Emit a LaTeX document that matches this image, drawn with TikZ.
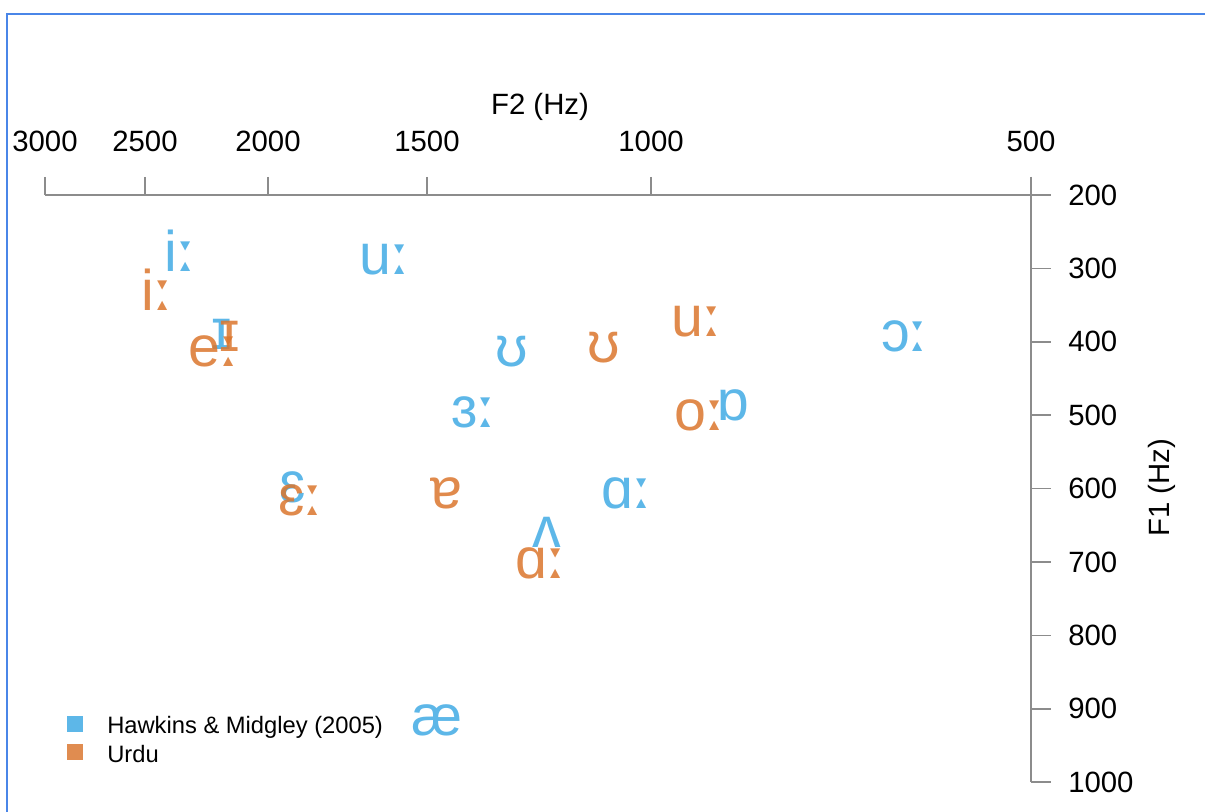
\documentclass[tikz,border=0pt]{standalone}
\usepackage{fontspec}
\setmainfont{Liberation Sans}
\newfontfamily\lenfont{DejaVu Sans}
\newcommand{\lng}{{\lenfont ː}}
\definecolor{hmblue}{RGB}{65,170,228}
\definecolor{urorange}{RGB}{219,118,45}
\definecolor{hmsq}{RGB}{93,183,232}
\definecolor{ursq}{RGB}{224,140,80}
\definecolor{frameblue}{RGB}{74,134,232}
\definecolor{axisgray}{RGB}{140,140,140}
\begin{document}
\begin{tikzpicture}[x=0.75pt,y=-0.75pt,
  axisline/.style={draw=axisgray,line width=1.1pt},
  ticklab/.style={inner sep=0pt,font=\fontsize{22}{26}\selectfont},
  vow/.style={inner sep=0pt,anchor=base,font=\fontsize{43}{50}\selectfont,text opacity=0.85},
  hm/.style={vow,text=hmblue},
  ur/.style={vow,text=urorange},
  legsq/.style={minimum size=12pt,inner sep=0pt,draw=none},
  legtxt/.style={inner sep=0pt,anchor=base west,font=\fontsize{17.8}{21}\selectfont}]
\useasboundingbox (0,0) rectangle (1205,812);
% frame
\coordinate (fb) at (7,830);
\coordinate (ftl) at (7,14);
\coordinate (fr) at (1230,14);
\draw[frameblue,line width=2.2pt] (fb) -- (ftl) -- (fr);
% horizontal axis
\coordinate (xl) at (45,195);
\coordinate (xr) at (1047,195);
\draw[axisline] (xl) -- (xr);
\foreach \xx/\lab in {45/3000,145/2500,268/2000,427/1500,651/1000,1031/500}{
  \coordinate (tx\lab) at (\xx,177);
  \coordinate (bx\lab) at (\xx,195);
  \draw[axisline] (tx\lab) -- (bx\lab);
  \node[ticklab,anchor=base] (lx\lab) at (\xx,152) {\lab};
}
\node[ticklab,anchor=base] (f2) at (540,115) {F2 (Hz)};
% vertical axis
\coordinate (yt) at (1031,177);
\coordinate (yb) at (1031,782);
\draw[axisline] (yt) -- (yb);
\foreach \ff in {200,300,400,500,600,700,800,900,1000}{
  \pgfmathsetmacro{\yy}{195+(\ff-200)*0.734}
  \coordinate (ly\ff) at (1031,\yy);
  \coordinate (ry\ff) at (1051,\yy);
  \draw[axisline] (ly\ff) -- (ry\ff);
  \node[ticklab,anchor=west] (lab\ff) at (1068,\yy) {\ff};
}
\node[ticklab,rotate=90] (f1) at (1162,488) {F1 (Hz)};
% Hawkins & Midgley (blue)
\node[hm] (b-i) at (181,272) {i\lng};
\node[hm] (b-u) at (385,275) {u\lng};
\node[hm] (b-I) at (222,350) {ɪ};
\node[hm] (b-U) at (512,367) {ʊ};
\node[hm] (b-3) at (474,427) {ɜ\lng};
\node[hm] (b-Q) at (733,420) {ɒ};
\node[hm] (b-O) at (905,352) {ɔ\lng};
\node[hm] (b-E) at (293,502) {ɛ};
\node[hm] (b-A) at (627,508) {ɑ\lng};
\node[hm] (b-V) at (547,547) {ʌ};
\node[hm] (b-ae) at (437,735) {æ};
% Urdu (orange)
\node[ur] (o-i) at (158,311) {i\lng};
\node[ur] (o-e) at (214,367) {e\lng};
\node[ur] (o-I) at (230,352) {ɪ};
\node[ur] (o-U) at (604,363) {ʊ};
\node[ur] (o-u) at (697,337) {u\lng};
\node[ur] (o-o) at (700,430) {o\lng};
\node[ur] (o-6) at (446,508) {ɐ};
\node[ur] (o-A) at (541,578) {ɑ\lng};
\node[ur] (o-E) at (301,515) {ɛ\lng};
% legend
\node[legsq,fill=hmsq] (sq1) at (75,724) {};
\node[legsq,fill=ursq] (sq2) at (75,752) {};
\node[legtxt] (t1) at (107,733) {Hawkins \& Midgley (2005)};
\node[legtxt] (t2) at (107,762) {Urdu};
\end{tikzpicture}
\end{document}
